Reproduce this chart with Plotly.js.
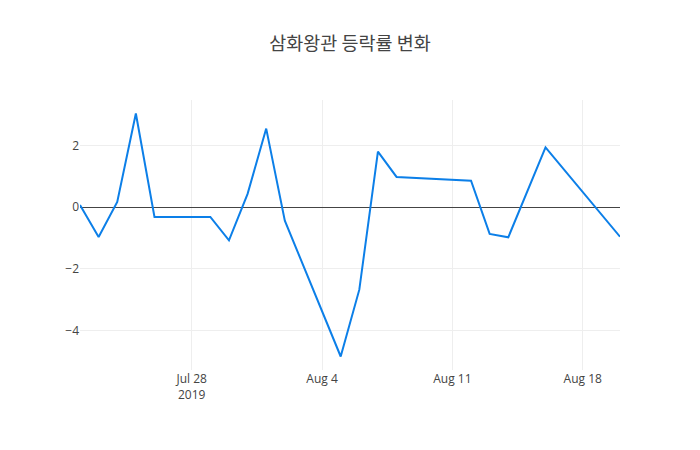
<!DOCTYPE html>
<html>
<head>
<meta charset="utf-8">
<script src="https://cdn.plot.ly/plotly-3.0.1.min.js"></script>
<style>
  body { margin: 0; }
  #chart { width: 700px; height: 450px; }
</style>
</head>
<body>
<div id="chart"></div>
<script>
var dates = [
    '2019-07-22', '2019-07-23', '2019-07-24', '2019-07-25', '2019-07-26',
    '2019-07-29', '2019-07-30', '2019-07-31', '2019-08-01', '2019-08-02',
    '2019-08-05', '2019-08-06', '2019-08-07', '2019-08-08', '2019-08-12',
    '2019-08-13', '2019-08-14', '2019-08-16', '2019-08-20'
];
var rates = [
    0.07, -0.97, 0.17, 3.04, -0.32,
    -0.32, -1.08, 0.43, 2.55, -0.44,
    -4.85, -2.68, 1.8, 0.98, 0.86,
    -0.87, -0.98, 1.94, -0.96
];

var trace = {
    x: dates,
    y: rates,
    mode: 'lines',
    type: 'scatter',
    line: {
        color: '#0c7fe8',
        width: 2
    }
};

var layout = {
    width: 700,
    height: 450,
    title: {
        text: '삼화왕관 등락률 변화',
        font: { family: '"Noto Sans CJK KR", "Open Sans", sans-serif', size: 18.5, color: '#444' }
    },
    font: { family: '"Open Sans", sans-serif', color: '#444' },
    xaxis: {
        type: 'date',
        showgrid: true,
        gridcolor: '#eee',
        zeroline: false
    },
    yaxis: {
        showgrid: true,
        gridcolor: '#eee',
        zeroline: true,
        zerolinecolor: '#444',
        zerolinewidth: 1
    },
    paper_bgcolor: '#fff',
    plot_bgcolor: '#fff',
    showlegend: false
};

Plotly.newPlot('chart', [trace], layout, { staticPlot: true });
</script>
</body>
</html>
